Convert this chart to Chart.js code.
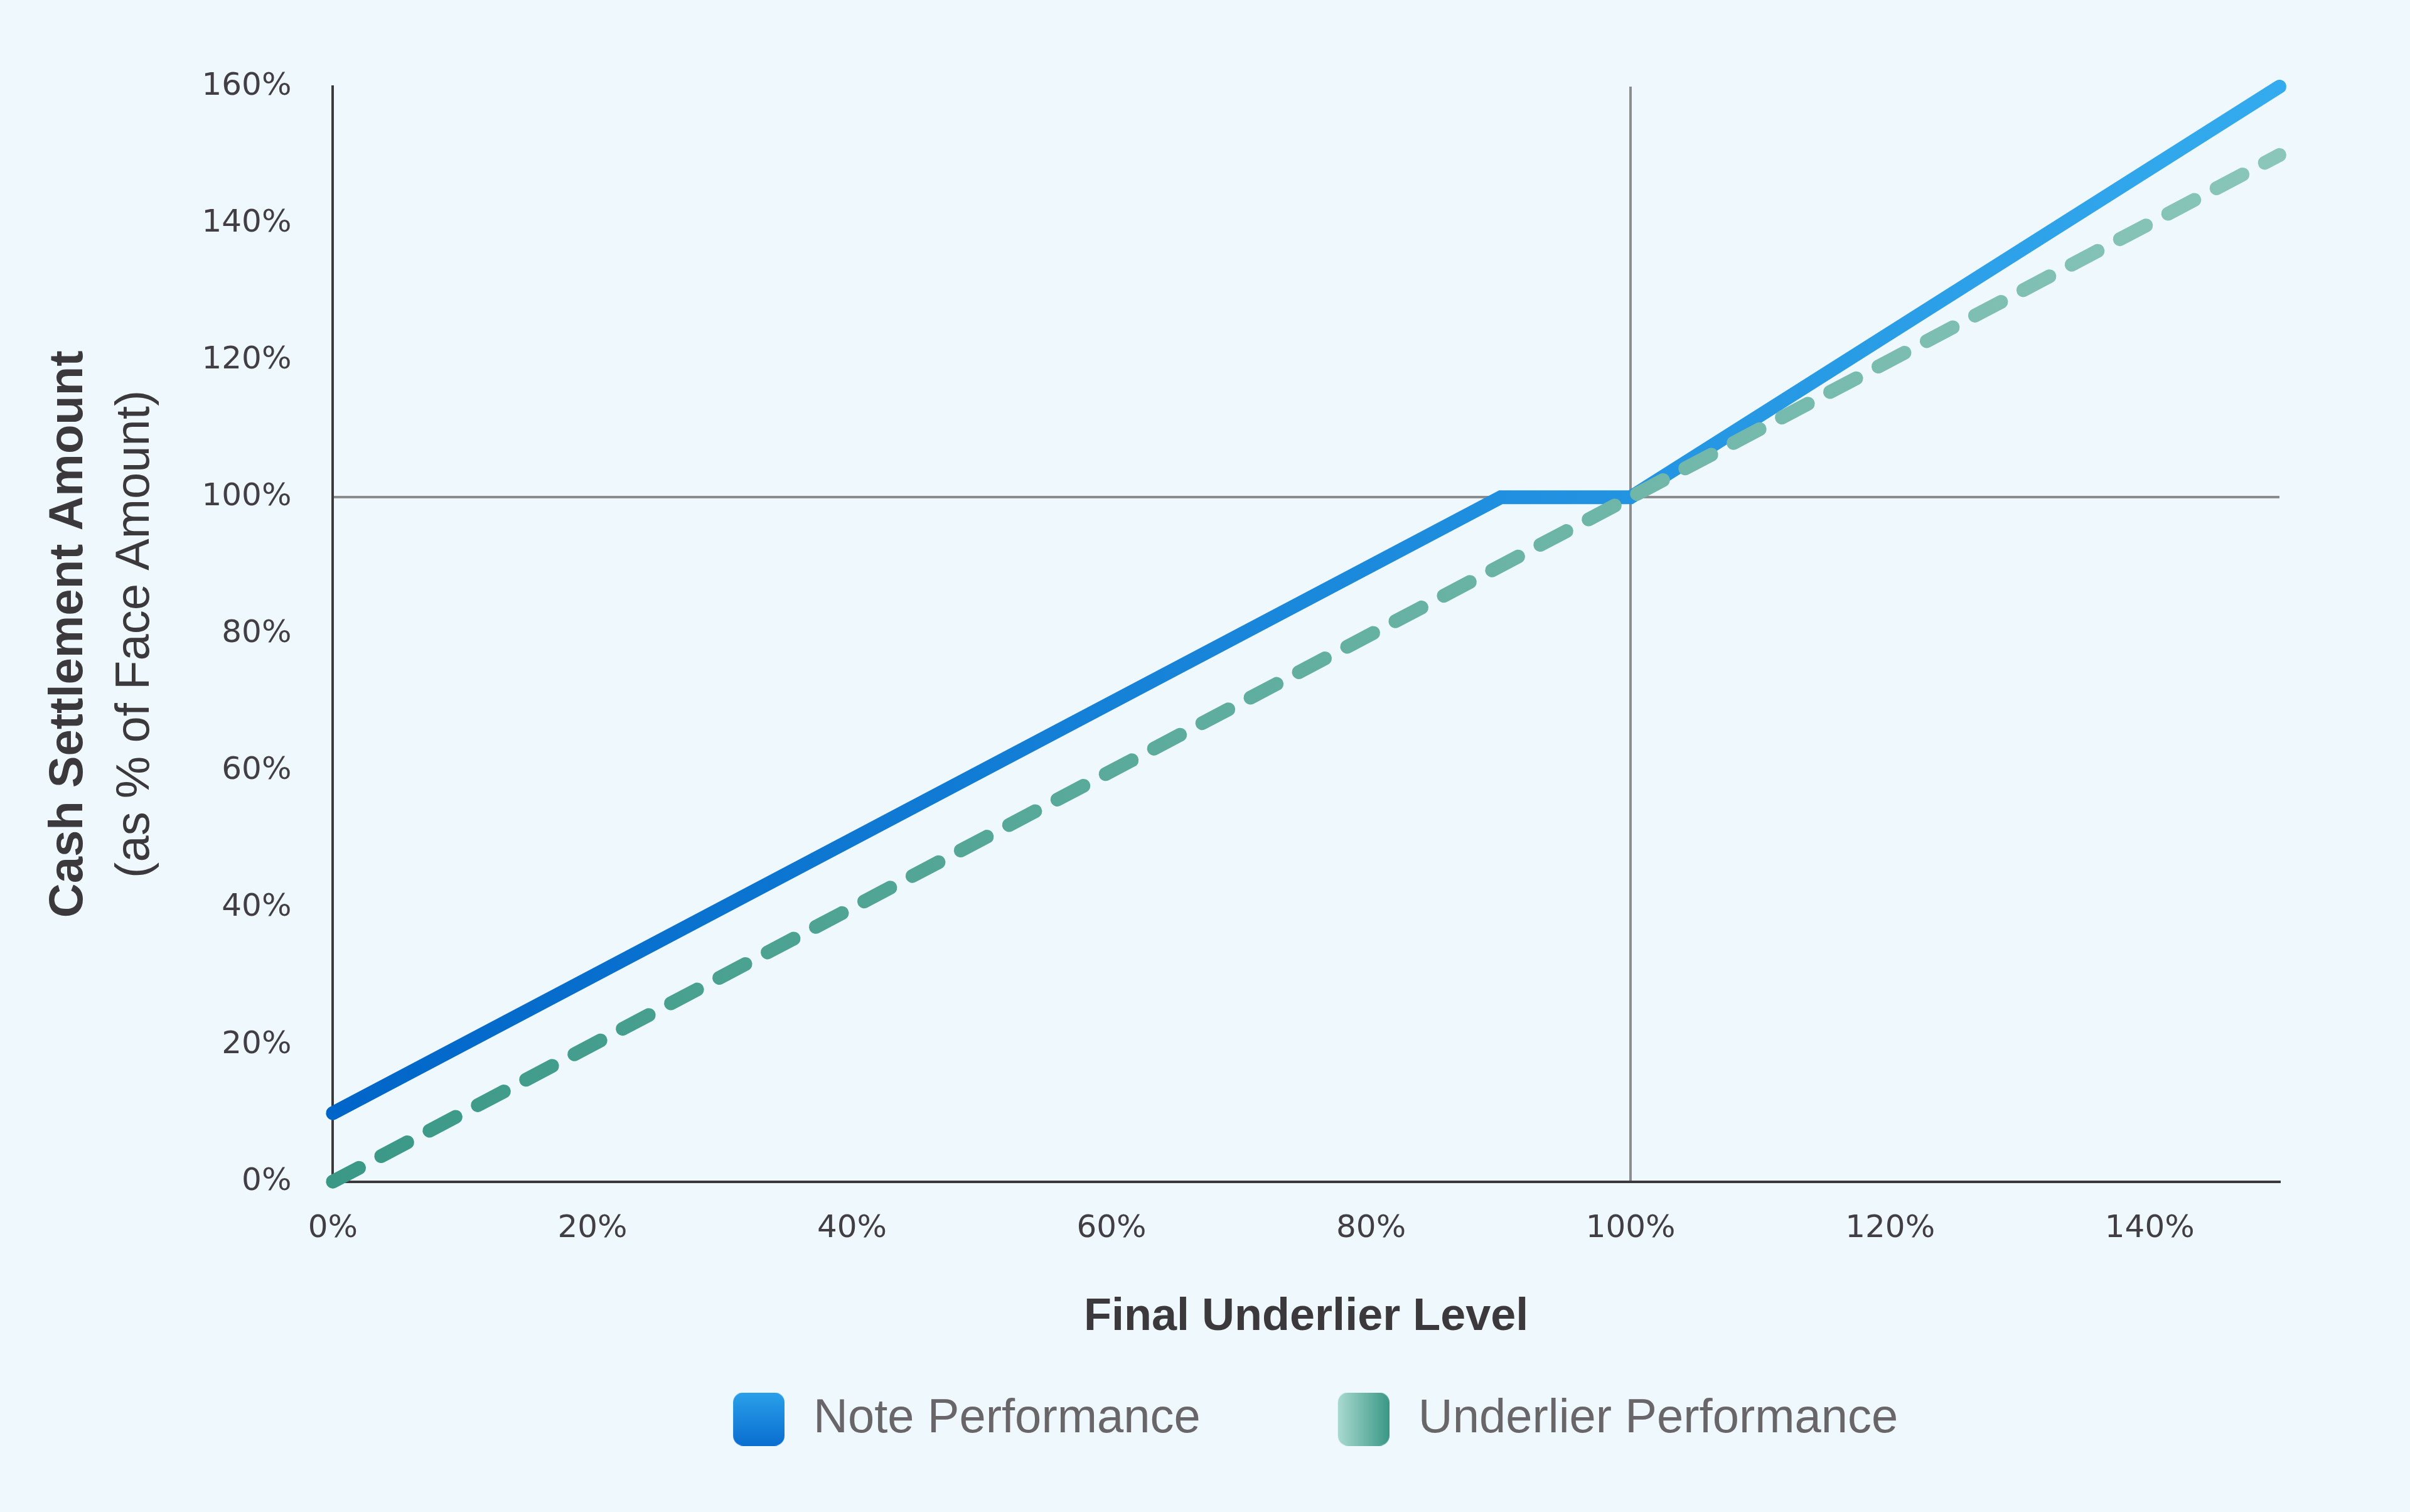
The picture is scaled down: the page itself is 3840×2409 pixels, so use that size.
<!DOCTYPE html>
<html lang="en">
<head>
<meta charset="UTF-8" />
<title>Note vs Underlier Performance</title>
<script src="https://cdn.jsdelivr.net/npm/chart.js"></script>
<style>
  html, body { margin: 0; padding: 0; background: #eff8fd; }
  .wrap { width: 100vw; height: 100vh; }
</style>
</head>
<body>
<div class="wrap"><canvas id="payoff"></canvas></div>
<script>
  // final underlier level (%) -> cash settlement (% of face amount)
  const noteLevels = [0, 90, 100, 150];
  const noteValues = [10, 100, 100, 160];
  const underlierLevels = [0, 150];
  const underlierValues = [0, 150];
  const xTicks = [0, 20, 40, 60, 80, 100, 120, 140];
  const yTicks = [0, 20, 40, 60, 80, 100, 120, 140, 160];
  const seriesNames = ['Note Performance', 'Underlier Performance'];

  const toPoints = (xs, ys) => xs.map((x, i) => ({ x: x, y: ys[i] }));

  // left-to-right gradient across the plot area
  function lineGradient(left, right) {
    return (context) => {
      const { ctx, chartArea } = context.chart;
      if (!chartArea) return left;
      const g = ctx.createLinearGradient(chartArea.left, 0, chartArea.right, 0);
      g.addColorStop(0, left);
      g.addColorStop(1, right);
      return g;
    };
  }

  // legend swatch: rounded square on the right, a little empty space on the left
  function swatch(c1, c2, vertical) {
    const c = document.createElement('canvas');
    c.width = 104;
    c.height = 85;
    const x = c.getContext('2d');
    const g = vertical ? x.createLinearGradient(0, 0, 0, 85) : x.createLinearGradient(22, 0, 104, 0);
    g.addColorStop(0, c1);
    g.addColorStop(1, c2);
    x.fillStyle = g;
    x.beginPath();
    x.roundRect(22, 0, 82, 85, 16);
    x.fill();
    return c;
  }

  const onlyHundred = (c) => (c.tick && c.tick.value === 100 ? '#8d8c8e' : 'rgba(0,0,0,0)');
  const tickFont = { family: 'DejaVu Sans', size: 50 };

  new Chart(document.getElementById('payoff'), {
    type: 'line',
    data: {
      datasets: [{
        label: seriesNames[0],
        data: toPoints(noteLevels, noteValues),
        borderColor: lineGradient('#0065c8', '#34abee'),
        borderWidth: 22,
        borderCapStyle: 'round',
        borderJoinStyle: 'miter',
        pointRadius: 0,
        pointStyle: swatch('#2aa0ea', '#0a6ed0', true),
        clip: false,
        order: 1
      }, {
        label: seriesNames[1],
        data: toPoints(underlierLevels, underlierValues),
        borderColor: lineGradient('#3a9886', '#8ac6ba'),
        borderWidth: 22,
        borderDash: [47, 40],
        borderCapStyle: 'round',
        pointRadius: 0,
        pointStyle: swatch('#a9dad0', '#3a9886', false),
        clip: false,
        order: 0
      }]
    },
    options: {
      responsive: true,
      maintainAspectRatio: false,
      animation: false,
      events: [],
      layout: { padding: { top: 138, right: 208, bottom: 100, left: 0 } },
      scales: {
        x: {
          type: 'linear',
          min: 0,
          max: 150,
          afterBuildTicks: (axis) => { axis.ticks = xTicks.map(v => ({ value: v })); },
          grid: { drawTicks: false, lineWidth: 4, color: onlyHundred },
          border: { color: '#3b393c', width: 4 },
          ticks: { padding: 45, color: '#413e44', font: tickFont, maxRotation: 0, autoSkip: false, callback: v => v + '%' },
          title: {
            display: true,
            text: 'Final Underlier Level',
            color: '#3b393c',
            font: { family: 'Liberation Sans', size: 72, weight: 'bold' },
            // title hangs into the empty top part of the legend box
            padding: { top: 23, bottom: -108 }
          }
        },
        y: {
          min: 0,
          max: 160,
          afterBuildTicks: (axis) => { axis.ticks = yTicks.map(v => ({ value: v })); },
          afterFit: (axis) => { axis.width = 269; },
          grid: { drawTicks: false, lineWidth: 4, color: onlyHundred },
          border: { color: '#3b393c', width: 4 },
          ticks: { padding: 66, color: '#413e44', font: tickFont, callback: v => v + '%' }
        }
      },
      plugins: {
        title: {
          display: true,
          position: 'left',
          fullSize: false,
          text: 'Cash Settlement Amount',
          color: '#3b393c',
          font: { family: 'Liberation Sans', size: 76, weight: 'bold' },
          padding: { top: 64, bottom: 0 }
        },
        subtitle: {
          display: true,
          position: 'left',
          fullSize: false,
          text: '(as % of Face Amount)',
          color: '#3b393c',
          font: { family: 'Liberation Sans', size: 76, weight: 'normal' },
          padding: { top: 15, bottom: 0 }
        },
        legend: {
          position: 'bottom',
          fullSize: false,
          labels: {
            usePointStyle: true,
            pointStyleWidth: 120,
            padding: 189,
            color: '#69666a',
            font: { family: 'Liberation Sans', size: 76 },
            sort: (a, b) => a.datasetIndex - b.datasetIndex
          }
        },
        tooltip: { enabled: false }
      }
    }
  });
</script>
</body>
</html>
